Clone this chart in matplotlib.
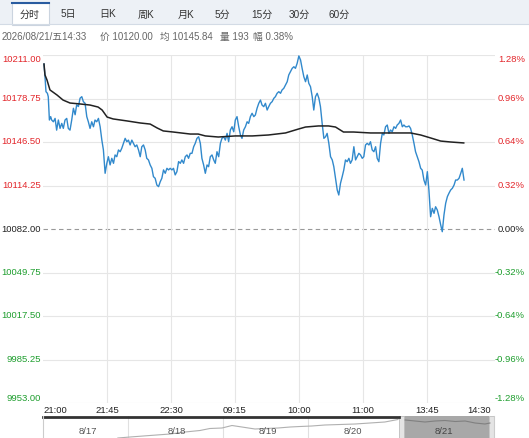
import numpy as np
import matplotlib
matplotlib.use('Agg')
import matplotlib.pyplot as plt
from matplotlib.patches import Rectangle

plt.rcParams['font.family'] = ['Liberation Sans', 'Noto Sans CJK SC', 'DejaVu Sans']

# previous settlement, used for the % axis and the dashed line
prev_close = 10082.00
y_levels = [10211.00, 10178.75, 10146.50, 10114.25, 10082.00,
            10049.75, 10017.50, 9985.25, 9953.00]
# minutes from 21:00 on the trading-session axis
time_ticks = [0, 45, 90, 135, 180, 225, 270, 315]
time_labels = ['21:00', '21:45', '22:30', '09:15', '10:00', '11:00', '13:45', '14:30']
session_len = 318

tab_names = ['分时', '5日', '日K', '周K', '月K', '5分', '15分', '30分', '60分']
info_parts = ['2026/08/21/五14:33', '价 10120.00', '均 10145.84', '量 193', '幅 0.38%']

# (minute, price) of the last price line
price_trace = [
    (0.7, 10204.3), (1.4, 10194.9), (2.1, 10183.8), (3.1, 10182.6), (3.7, 10180.1),
    (4.5, 10162.8), (5.4, 10165.3), (6.1, 10162.8), (7.3, 10161.5), (8.5, 10164.0),
    (9.6, 10155.3), (10.8, 10162.8), (12.0, 10156.6), (13.2, 10160.3), (14.3, 10156.6),
    (15.5, 10162.8), (16.7, 10164.0), (17.8, 10156.6), (19.0, 10155.3), (20.2, 10162.8),
    (21.4, 10171.5), (22.6, 10166.7), (23.7, 10174.1), (24.9, 10172.8), (26.1, 10179.0),
    (27.3, 10180.1), (28.4, 10176.4), (29.6, 10175.2), (30.8, 10165.3), (31.9, 10161.5),
    (33.1, 10156.6), (34.3, 10161.5), (35.5, 10157.8), (36.6, 10162.8), (37.8, 10161.5),
    (39.0, 10164.0), (40.2, 10157.8), (41.4, 10147.9), (42.5, 10140.6), (43.7, 10123.3),
    (44.9, 10130.7), (46.0, 10135.6), (47.2, 10129.5), (48.4, 10134.4), (49.6, 10130.7),
    (50.7, 10136.9), (51.9, 10135.6), (53.1, 10140.6), (54.3, 10139.3), (55.4, 10141.8),
    (56.6, 10145.5), (57.8, 10149.2), (59.0, 10146.7), (60.1, 10147.9), (61.3, 10144.3),
    (62.5, 10147.9), (63.6, 10145.5), (64.8, 10143.0), (66.0, 10144.3), (67.2, 10140.6),
    (68.4, 10135.6), (69.5, 10143.0), (70.7, 10144.3), (71.9, 10140.6), (73.0, 10134.4),
    (74.2, 10133.2), (75.4, 10129.5), (76.6, 10127.0), (77.7, 10120.8), (78.9, 10119.6),
    (80.1, 10114.6), (81.3, 10113.4), (82.5, 10117.1), (83.6, 10119.6), (84.8, 10125.8),
    (86.0, 10123.3), (87.2, 10127.0), (88.3, 10125.8), (89.5, 10127.0), (90.7, 10125.8),
    (91.8, 10127.0), (93.0, 10122.1), (94.2, 10124.5), (95.4, 10132.0), (96.6, 10130.7),
    (97.7, 10133.2), (98.9, 10130.7), (100.1, 10135.6), (101.3, 10136.9), (102.4, 10134.4),
    (103.6, 10138.1), (104.8, 10138.1), (106.0, 10143.0), (107.1, 10145.5), (108.3, 10149.2),
    (109.5, 10150.4), (110.7, 10145.5), (111.8, 10134.4), (113.0, 10129.5), (114.2, 10123.3),
    (115.4, 10129.5), (116.5, 10128.2), (117.7, 10135.6), (118.9, 10136.9), (120.1, 10133.2),
    (121.2, 10130.7), (122.4, 10139.3), (123.6, 10135.6), (124.8, 10145.5), (125.9, 10149.2),
    (127.1, 10150.4), (128.3, 10147.9), (129.5, 10152.9), (130.6, 10146.7), (131.8, 10155.4),
    (133.0, 10157.8), (134.2, 10154.1), (135.3, 10162.8), (136.5, 10165.3), (137.7, 10157.8),
    (138.9, 10151.7), (140.0, 10149.2), (141.2, 10155.4), (142.4, 10157.8), (143.6, 10161.5),
    (144.7, 10160.3), (145.9, 10165.3), (147.1, 10167.8), (148.3, 10165.3), (149.4, 10166.5),
    (150.6, 10171.5), (151.8, 10175.2), (153.0, 10177.6), (154.1, 10173.9), (155.3, 10172.7),
    (156.5, 10175.2), (157.7, 10170.2), (158.8, 10172.7), (160.0, 10175.2), (161.2, 10176.4),
    (162.4, 10178.9), (163.5, 10180.1), (164.7, 10182.6), (165.9, 10183.8), (167.1, 10182.6),
    (168.2, 10185.1), (169.4, 10186.3), (170.6, 10188.8), (171.8, 10191.2), (172.9, 10196.2),
    (174.1, 10198.6), (175.3, 10201.1), (176.5, 10202.3), (177.6, 10201.1), (178.8, 10204.8),
    (180.0, 10210.3), (181.2, 10207.3), (182.3, 10201.1), (183.5, 10194.9), (184.7, 10191.2),
    (185.9, 10196.2), (187.0, 10190.0), (188.2, 10187.5), (189.4, 10180.1), (190.5, 10170.2),
    (191.7, 10180.1), (192.9, 10182.6), (194.1, 10178.9), (195.2, 10172.7), (196.4, 10160.3),
    (197.6, 10149.2), (198.8, 10150.4), (199.9, 10152.9), (201.1, 10145.5), (202.3, 10135.6),
    (203.5, 10133.2), (204.6, 10128.2), (205.8, 10119.6), (207.0, 10110.9), (208.1, 10107.2),
    (209.3, 10115.9), (210.5, 10120.8), (211.6, 10125.7), (212.8, 10133.2), (214.0, 10131.9),
    (215.2, 10134.4), (216.3, 10130.7), (217.5, 10133.2), (218.7, 10143.0), (219.9, 10133.2),
    (221.0, 10135.6), (222.2, 10138.1), (223.4, 10136.9), (224.6, 10134.4), (225.7, 10135.6),
    (226.9, 10144.3), (228.1, 10145.5), (229.3, 10144.3), (230.4, 10146.7), (231.6, 10140.6),
    (232.8, 10139.3), (234.0, 10143.0), (235.1, 10134.4), (236.3, 10131.9), (237.5, 10145.5),
    (238.7, 10152.9), (239.8, 10151.7), (241.0, 10157.8), (242.2, 10159.1), (243.4, 10152.9),
    (244.5, 10155.4), (245.7, 10154.1), (246.9, 10157.8), (248.1, 10156.6), (249.2, 10159.1),
    (250.4, 10160.3), (251.6, 10162.8), (252.8, 10157.8), (253.9, 10159.1), (255.1, 10157.8),
    (256.3, 10157.8), (257.5, 10158.4), (258.6, 10156.6), (259.8, 10151.7), (261.0, 10145.5),
    (262.1, 10139.3), (263.3, 10135.6), (264.5, 10131.9), (265.7, 10127.0), (266.8, 10125.7),
    (268.0, 10118.3), (269.2, 10114.6), (270.4, 10124.5), (271.5, 10110.9), (272.7, 10091.1),
    (273.9, 10097.3), (275.1, 10093.6), (276.2, 10098.5), (277.4, 10096.1), (278.6, 10091.1),
    (279.8, 10085.0), (280.9, 10080.0), (282.1, 10092.4), (283.3, 10101.1), (284.5, 10106.0),
    (285.6, 10108.5), (286.8, 10110.9), (288.0, 10112.2), (289.2, 10114.6), (290.3, 10118.3),
    (291.5, 10118.3), (292.7, 10119.6), (293.9, 10123.3), (295.0, 10127.0), (296.2, 10118.3),
]

# (minute, price) of the average price line
avg_trace = [
    (0.7, 10204.3), (1.4, 10196.2), (2.8, 10192.5), (4.9, 10185.1), (9.9, 10181.3),
    (14.1, 10177.6), (19.0, 10175.4), (26.1, 10174.7), (33.1, 10173.9), (38.8, 10172.4),
    (41.6, 10170.2), (45.1, 10165.0), (49.3, 10163.6), (59.2, 10162.1), (68.4, 10160.6),
    (75.4, 10159.8), (80.3, 10156.9), (84.6, 10154.7), (91.6, 10153.9), (103.6, 10152.4),
    (109.2, 10152.4), (114.2, 10151.0), (123.3, 10150.2), (135.3, 10151.0), (147.3, 10151.0),
    (158.6, 10151.7), (170.6, 10153.2), (179.7, 10156.1), (184.7, 10157.6), (193.8, 10158.4),
    (200.9, 10158.4), (205.8, 10157.6), (211.4, 10153.9), (218.5, 10153.9), (230.4, 10153.2),
    (242.5, 10153.2), (258.6, 10153.2), (265.7, 10151.7), (272.7, 10149.5), (279.8, 10147.2),
    (286.8, 10146.5), (296.0, 10145.8),
]

# navigator (5 day overview), x in % of the history, level in relative units
nav_x = [16.6, 19.3, 23.7, 28.2, 31.5, 34.8, 37.0, 39.7, 41.9, 44.1, 47.0, 49.2,
         52.1, 54.8, 57.0, 59.6, 62.5, 65.9, 69.2, 72.5, 75.8, 78.7]
nav_level = [0, 1, 2.5, 4, 6, 7.5, 9.5, 10, 12.5, 11, 9, 9.5,
             10, 11, 11.5, 12, 13, 13.5, 14, 15, 16, 18.5]
sel_x = [80.3, 82.5, 84.7, 86.9, 89.1, 91.4, 93.6, 95.8, 98.0, 99.1]
sel_level = [18, 17, 16, 17, 17.5, 16.5, 17, 15, 14, 15]
day_bounds = [18.8, 39.9, 58.8]
day_labels = ['8/17', '8/18', '8/19', '8/20', '8/21']
day_label_x = [10.0, 29.7, 49.9, 68.7, 88.9]
sel_start, sel_end = 80.0, 99.0

W, H = 529, 438
fig = plt.figure(figsize=(W / 100, H / 100), dpi=100)

# ---- header (tabs + info line), drawn in pixel coordinates
bg = fig.add_axes([0, 0, 1, 1])
bg.set_xlim(0, W)
bg.set_ylim(H, 0)
bg.axis('off')
bg.add_patch(Rectangle((0, 0), W, 24, fc='#edf1f6', ec='none'))
bg.plot([0, W], [24, 24], color='#d3dbe5', lw=0.8)
bg.add_patch(Rectangle((12, 3), 37, 21.5, fc='white', ec='#cbd4df', lw=0.8))
bg.plot([12, 49], [3, 3], color='#2a5ca0', lw=1.5)
tab_x = [30, 68, 108, 146, 186, 222, 262, 299, 339]
for name, tx in zip(tab_names, tab_x):
    bg.text(tx, 14.5, name, ha='center', va='center', fontsize=7.2, color='#333333')
info_x = [2, 100, 160, 220, 253]
for part, ix in zip(info_parts, info_x):
    bg.text(ix, 37, part, ha='left', va='center', fontsize=7.0, color='#666666')

# ---- main time-share chart
ax = fig.add_axes([43 / W, 1 - 403 / H, 452 / W, 348 / H])
ax.set_xlim(0, session_len)
ax.set_ylim(min(y_levels), max(y_levels))
for s in ax.spines.values():
    s.set_visible(False)
ax.set_xticks([])
ax.set_yticks([])

for lv in y_levels:
    if lv == prev_close:
        ax.axhline(lv, color='#999999', lw=0.8, dashes=(4, 3), zorder=1)
    else:
        ax.axhline(lv, color='#e6e6e6', lw=0.8, zorder=1)
for t in time_ticks[1:-1]:
    ax.axvline(t, color='#e6e6e6', lw=0.8, zorder=1)

pm, pp = zip(*price_trace)
am, ap = zip(*avg_trace)
ax.plot(pm, pp, color='#3189cc', lw=1.0, zorder=3)
ax.plot(am, ap, color='#222222', lw=1.1, zorder=4)

ytr = ax.get_yaxis_transform()
for i, lv in enumerate(y_levels):
    if lv > prev_close:
        col = '#e3262b'
    elif lv < prev_close:
        col = '#1e9e2e'
    else:
        col = '#222222'
    va = 'top' if i == 0 else ('bottom' if i == len(y_levels) - 1 else 'center')
    pct = (lv - prev_close) / prev_close * 100
    ax.text(-0.005, lv, f'{lv:.2f}', transform=ytr, ha='right', va=va,
            fontsize=6.8, color=col, clip_on=False)
    ax.text(1.066, lv, f'{pct:.2f}%', transform=ytr, ha='right', va=va,
            fontsize=6.8, color=col, clip_on=False)

xtr = ax.get_xaxis_transform()
for i, (t, lab) in enumerate(zip(time_ticks, time_labels)):
    ha = 'left' if i == 0 else ('right' if i == len(time_ticks) - 1 else 'center')
    ax.text(t, -0.021, lab, transform=xtr, ha=ha, va='center',
            fontsize=6.8, color='#222222', clip_on=False)

# ---- navigator
nav = fig.add_axes([43 / W, 0, 451 / W, 22 / H])
nav.set_xlim(0, 100)
nav.set_ylim(0, 22)
nav.set_xticks([])
nav.set_yticks([])
for k in ['top', 'bottom']:
    nav.spines[k].set_visible(False)
nav.spines['left'].set_color('#cccccc')
nav.spines['right'].set_color('#cccccc')
for b in day_bounds:
    nav.axvline(b, color='#e0e0e0', lw=0.8)
nav.plot(nav_x, nav_level, color='#b0b0b0', lw=0.8)
nav.add_patch(Rectangle((sel_start, 0), sel_end - sel_start, 22, fc='#a8a8a8', ec='none'))
nav.add_patch(Rectangle((sel_start - 1.1, 0), 1.1, 22, fc='#e4e4e4', ec='#bdbdbd', lw=0.6))
nav.add_patch(Rectangle((sel_end, 0), 1.0, 22, fc='#e4e4e4', ec='#bdbdbd', lw=0.6))
nav.plot(sel_x, sel_level, color='#808080', lw=0.8)
nav.plot([0, sel_start - 1.1], [21.5, 21.5], color='#333333', lw=2.0, clip_on=False)
for lab, lx in zip(day_labels, day_label_x):
    nav.text(lx, 7, lab, ha='center', va='center', fontsize=6.8,
             color='#555555' if lab != '8/21' else '#444444')

fig.savefig('out.png', dpi=100)
